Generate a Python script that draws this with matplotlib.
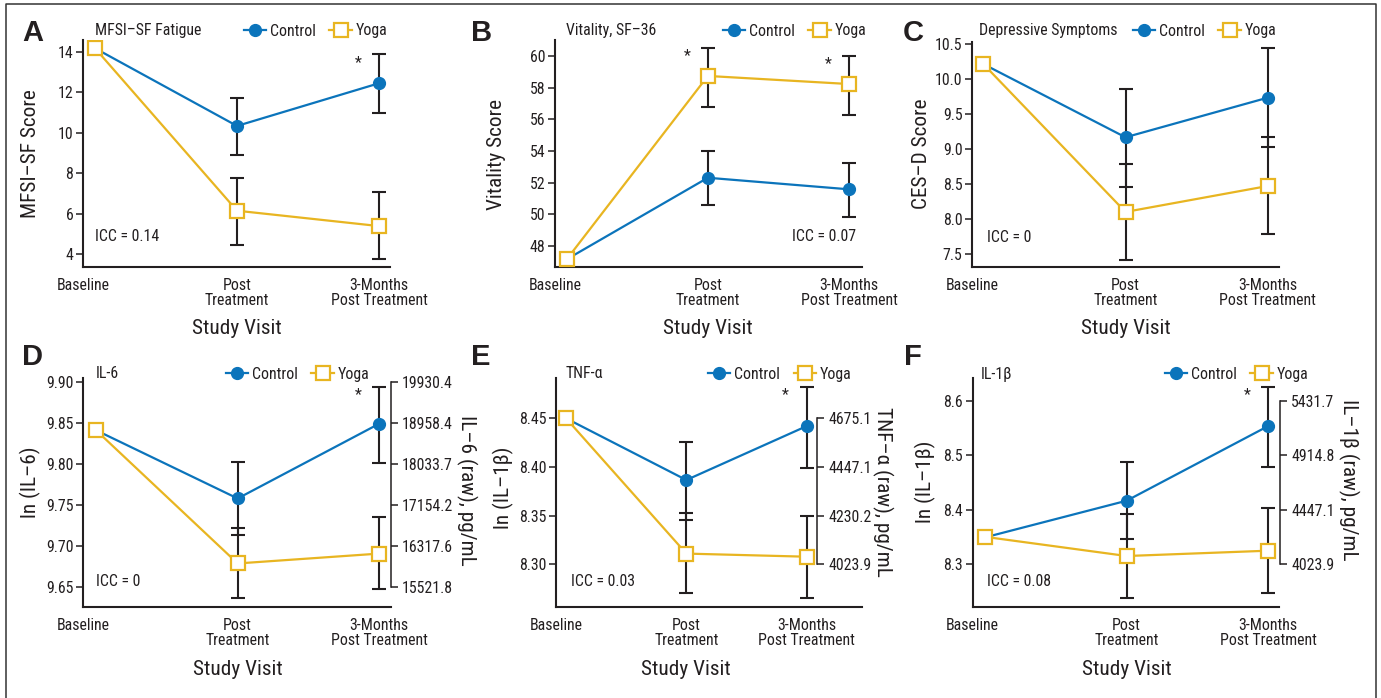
import matplotlib
matplotlib.use('Agg')
import matplotlib.pyplot as plt
from matplotlib import font_manager
from matplotlib.lines import Line2D
import numpy as np

W, H = 1381, 698

visits = ['Baseline', 'Post\nTreatment', '3-Months\nPost Treatment']

# A: MFSI-SF fatigue
fat_ctrl = [14.17, 10.33, 12.44]
fat_ctrl_lo = [8.90, 10.99]
fat_ctrl_hi = [11.73, 13.87]
fat_yoga = [14.17, 6.14, 5.38]
fat_yoga_lo = [4.44, 3.74]
fat_yoga_hi = [7.77, 7.05]

# B: vitality SF-36
vit_ctrl = [47.16, 52.31, 51.58]
vit_ctrl_lo = [50.59, 49.85]
vit_ctrl_hi = [54.00, 53.26]
vit_yoga = [47.16, 58.74, 58.23]
vit_yoga_lo = [56.80, 56.27]
vit_yoga_hi = [60.52, 60.00]

# C: depressive symptoms CES-D
dep_ctrl = [10.21, 9.165, 9.73]
dep_ctrl_lo = [8.456, 9.03]
dep_ctrl_hi = [9.854, 10.44]
dep_yoga = [10.21, 8.10, 8.47]
dep_yoga_lo = [7.42, 7.785]
dep_yoga_hi = [8.78, 9.165]

# D: IL-6
il6_ctrl = [9.841, 9.758, 9.849]
il6_ctrl_lo = [9.714, 9.8015]
il6_ctrl_hi = [9.802, 9.894]
il6_yoga = [9.841, 9.679, 9.691]
il6_yoga_lo = [9.6366, 9.648]
il6_yoga_hi = [9.7217, 9.735]
il6_raw_ticks = [15521.8, 16317.6, 17154.2, 18033.7, 18958.4, 19930.4]

# E: TNF-alpha
tnf_ctrl = [8.45, 8.3866, 8.442]
tnf_ctrl_lo = [8.3455, 8.3986]
tnf_ctrl_hi = [8.4253, 8.4825]
tnf_yoga = [8.45, 8.311, 8.3078]
tnf_yoga_lo = [8.2702, 8.265]
tnf_yoga_hi = [8.3524, 8.3496]
tnf_raw_ticks = [4023.9, 4230.2, 4447.1, 4675.1]

# F: IL-1beta
il1b_ctrl = [8.349, 8.4165, 8.554]
il1b_ctrl_lo = [8.346, 8.478]
il1b_ctrl_hi = [8.4872, 8.6263]
il1b_yoga = [8.35, 8.3147, 8.3245]
il1b_yoga_lo = [8.2369, 8.246]
il1b_yoga_hi = [8.3915, 8.4025]
il1b_raw_ticks = [4023.9, 4447.1, 4914.8, 5431.7]

BLUE = '#0B74BB'
GOLD = '#E8B521'
INK = '#231F20'

names = {f.name for f in font_manager.fontManager.ttflist}
narrow = next((n for n in ['Liberation Sans Narrow', 'Roboto Condensed', 'Arial Narrow']
               if n in names), 'Liberation Sans')
plt.rcParams['font.family'] = [narrow, 'DejaVu Sans']
plt.rcParams['text.color'] = INK
FS = 11.4
FL = 15.3

fig = plt.figure(figsize=(W / 100, H / 100), dpi=100)


def fx(x):
    return x / W


def fy(y):
    return 1 - y / H


# outer frame (bottom edge runs off the page)
fig.add_artist(Line2D([fx(6), fx(6), fx(1376), fx(1376)], [fy(700), fy(4), fy(4), fy(700)],
                      transform=fig.transFigure, color='#333333', lw=1.1))

panels = [
    dict(letter='A', box=(83, 40, 390, 267), xs=(95, 379), yref=((14, 51.7), (4, 254)),
         yticks=[4, 6, 8, 10, 12, 14], fmt='%d', ctrl=(fat_ctrl, fat_ctrl_lo, fat_ctrl_hi),
         yoga=(fat_yoga, fat_yoga_lo, fat_yoga_hi), star=[('c', 2)],
         title='MFSI–SF Fatigue', title_xy=(95, 31), leg_xy=(244, 31), ylab='MFSI–SF Score',
         ylab_xy=(30, 154), icc='ICC = 0.14', icc_xy=(95, 236.7), icc_ha='left',
         letter_xy=(22, 33)),
    dict(letter='B', box=(555, 40, 862, 267), xs=(566.7, 849), yref=((60, 56), (48, 246)),
         yticks=[48, 50, 52, 54, 56, 58, 60], fmt='%d', ctrl=(vit_ctrl, vit_ctrl_lo, vit_ctrl_hi),
         yoga=(vit_yoga, vit_yoga_lo, vit_yoga_hi), star=[('y', 1), ('y', 2)],
         title='Vitality, SF–36', title_xy=(566, 31), leg_xy=(723, 31), ylab='Vitality Score',
         ylab_xy=(497, 154), icc='ICC = 0.07', icc_xy=(856, 236.7), icc_ha='right',
         letter_xy=(471, 33)),
    dict(letter='C', box=(972.3, 41.7, 1279, 267), xs=(983.3, 1267.7), yref=((10.5, 43.7), (7.5, 254)),
         yticks=[7.5, 8.0, 8.5, 9.0, 9.5, 10.0, 10.5], fmt='%.1f', ctrl=(dep_ctrl, dep_ctrl_lo, dep_ctrl_hi),
         yoga=(dep_yoga, dep_yoga_lo, dep_yoga_hi), star=[],
         title='Depressive Symptoms', title_xy=(979, 31), leg_xy=(1133, 31), ylab='CES–D Score',
         ylab_xy=(922, 154), icc='ICC = 0', icc_xy=(987, 237), icc_ha='left',
         letter_xy=(903, 33)),
    dict(letter='D', box=(83.3, 378.3, 390.7, 607.3), xs=(96, 379.3), yref=((9.90, 381.7), (9.65, 587.3)),
         yticks=[9.65, 9.70, 9.75, 9.80, 9.85, 9.90], fmt='%.2f', ctrl=(il6_ctrl, il6_ctrl_lo, il6_ctrl_hi),
         yoga=(il6_yoga, il6_yoga_lo, il6_yoga_hi), star=[('c', 2)],
         title='IL-6', title_xy=(95.7, 374), leg_xy=(226, 374.3), ylab='ln (IL–6)',
         ylab_xy=(30, 482), icc='ICC = 0', icc_xy=(96, 581), icc_ha='left',
         letter_xy=(22, 357), raw=il6_raw_ticks, raw_x=390.7, rlab='IL–6 (raw), pg/mL',
         rlab_xy=(467, 490)),
    dict(letter='E', box=(556, 378.3, 861.7, 607.3), xs=(566, 806.7), yref=((8.45, 418.3), (8.30, 564.3)),
         yticks=[8.30, 8.35, 8.40, 8.45], fmt='%.2f', ctrl=(tnf_ctrl, tnf_ctrl_lo, tnf_ctrl_hi),
         yoga=(tnf_yoga, tnf_yoga_lo, tnf_yoga_hi), star=[('c', 2)],
         title='TNF-α', title_xy=(566, 374), leg_xy=(708.3, 374.3), ylab='ln (IL–1β)',
         ylab_xy=(503.3, 487.5), icc='ICC = 0.03', icc_xy=(570.7, 581), icc_ha='left',
         letter_xy=(471, 357), raw=tnf_raw_ticks, raw_x=817.3, rlab='TNF–α (raw), pg/mL',
         rlab_xy=(883, 491.7)),
    dict(letter='F', box=(972.7, 378.3, 1279.3, 607.3), xs=(985, 1268.3), yref=((8.6, 401), (8.3, 564)),
         yticks=[8.3, 8.4, 8.5, 8.6], fmt='%.1f', ctrl=(il1b_ctrl, il1b_ctrl_lo, il1b_ctrl_hi),
         yoga=(il1b_yoga, il1b_yoga_lo, il1b_yoga_hi), star=[('c', 2)],
         title='IL-1β', title_xy=(980.7, 374), leg_xy=(1165, 374.3), ylab='ln (IL–1β)',
         ylab_xy=(925, 482), icc='ICC = 0.08', icc_xy=(987, 581), icc_ha='left',
         letter_xy=(904, 357), raw=il1b_raw_ticks, raw_x=1280, rlab='IL–1β (raw), pg/mL',
         rlab_xy=(1348.3, 480)),
]

handles = [
    Line2D([], [], color=BLUE, lw=1.6, marker='o', markersize=8.5),
    Line2D([], [], color=GOLD, lw=1.6, marker='s', markersize=9.5, mfc='white', mec=GOLD, mew=1.6),
]

for p in panels:
    L, T, R, B = p['box']
    ax = fig.add_axes([fx(L), fy(B), fx(R) - fx(L), fy(T) - fy(B)])
    ax.patch.set_alpha(0)
    x0, x2 = p['xs']
    sx = (x2 - x0) / 2
    ax.set_xlim((L - x0) / sx, (R - x0) / sx)
    (v1, p1), (v2, p2) = p['yref']
    sy = (v1 - v2) / (p2 - p1)
    ax.set_ylim(v2 - (B - p2) * sy, v1 + (p1 - T) * sy)

    xi = np.arange(3)
    for key in ('ctrl', 'yoga'):
        vals, lo, hi = p[key]
        vals = np.array(vals)
        lo = np.array(lo)
        hi = np.array(hi)
        ax.errorbar(xi[1:], vals[1:], yerr=[vals[1:] - lo, hi - vals[1:]], fmt='none',
                    ecolor=INK, elinewidth=1.5, capsize=5, capthick=1.5, zorder=2)
    ax.plot(xi, p['ctrl'][0], color=BLUE, lw=1.6, marker='o', markersize=8.5, zorder=3)
    ax.plot(xi, p['yoga'][0], color=GOLD, lw=1.6, marker='s', markersize=9.5,
            mfc='white', mec=GOLD, mew=1.6, zorder=4)

    for key, i in p['star']:
        hi = (p['ctrl'] if key == 'c' else p['yoga'])[2][i - 1]
        ax.annotate('*', xy=(i, hi), xytext=(-21, -8), textcoords='offset pixels',
                    ha='center', va='center', fontsize=FS)

    for s in ('top', 'right'):
        ax.spines[s].set_visible(False)
    for s in ('left', 'bottom'):
        ax.spines[s].set_linewidth(1.5)
        ax.spines[s].set_color(INK)
    ax.set_yticks(p['yticks'])
    ax.set_yticklabels([p['fmt'] % t for t in p['yticks']])
    ax.tick_params(axis='y', length=5, width=1.1, pad=2, labelsize=FS, colors=INK)
    ax.set_xticks([ax.get_xlim()[0], 1, 2])
    ax.set_xticklabels(visits, linespacing=1.0)
    ax.tick_params(axis='x', length=0, pad=8, labelsize=FS, colors=INK)

    ax.annotate('Study Visit', xy=(1, 0), xycoords=('data', 'axes fraction'),
                xytext=(0, -62), textcoords='offset pixels', ha='center', va='center', fontsize=FL)

    if 'raw' in p:
        ax2 = ax.twinx()
        ax2.set_ylim(ax.get_ylim())
        pos = np.log(p['raw'])
        for s in ('top', 'left', 'bottom'):
            ax2.spines[s].set_visible(False)
        ax2.spines['right'].set_position(('axes', (p['raw_x'] - L) / (R - L)))
        ax2.spines['right'].set_bounds(pos.min(), pos.max())
        ax2.spines['right'].set_linewidth(1.1)
        ax2.spines['right'].set_color(INK)
        ax2.set_yticks(pos)
        ax2.set_yticklabels(['%.1f' % v for v in p['raw']])
        ax2.tick_params(axis='y', length=5, width=1.1, pad=3, labelsize=FS, colors=INK)
        fig.text(fx(p['rlab_xy'][0]), fy(p['rlab_xy'][1]), p['rlab'], rotation=-90,
                 ha='center', va='center', fontsize=FL)

    fig.text(fx(p['ylab_xy'][0]), fy(p['ylab_xy'][1]), p['ylab'], rotation=90,
             ha='center', va='center', fontsize=FL)
    fig.text(fx(p['title_xy'][0]), fy(p['title_xy'][1]), p['title'], ha='left', va='center', fontsize=FS)
    fig.text(fx(p['icc_xy'][0]), fy(p['icc_xy'][1]), p['icc'], ha=p['icc_ha'], va='center', fontsize=FS)
    fig.text(fx(p['letter_xy'][0]), fy(p['letter_xy'][1]), p['letter'], ha='left', va='center',
             fontsize=21, fontweight='bold', family=['Liberation Sans', 'DejaVu Sans'])
    fig.legend(handles, ['Control', 'Yoga'], loc='center left',
               bbox_to_anchor=(fx(p['leg_xy'][0]), fy(p['leg_xy'][1])), bbox_transform=fig.transFigure,
               ncol=2, frameon=False, fontsize=FS, borderpad=0, borderaxespad=0,
               handlelength=1.4, handletextpad=0.25, columnspacing=0.85)

fig.savefig('out.png', dpi=100)
